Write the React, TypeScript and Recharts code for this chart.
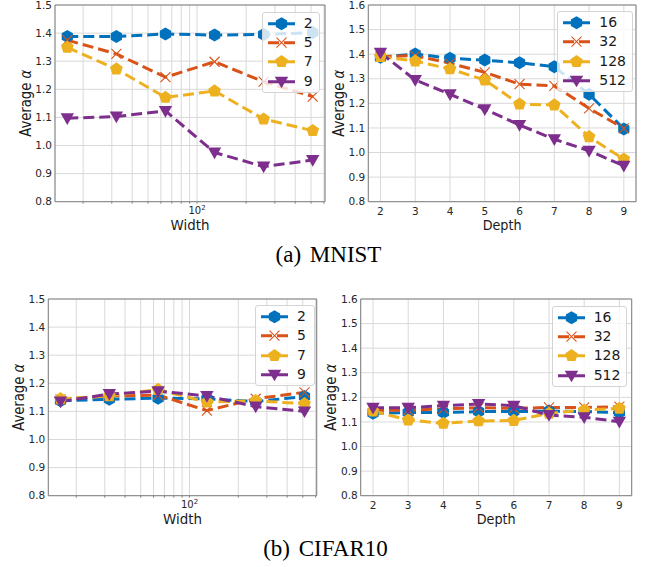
import { LineChart, Line, XAxis, YAxis, CartesianGrid, ReferenceArea } from "recharts";

// x values
const widths = [16, 32, 64, 128, 256, 512];
const depths = [2, 3, 4, 5, 6, 7, 8, 9];
const logTicks = [20, 30, 40, 50, 60, 70, 80, 90, 100, 200, 300, 400, 500, 600];
const yTicks15 = [0.8, 0.9, 1.0, 1.1, 1.2, 1.3, 1.4, 1.5];
const yTicks16 = [0.8, 0.9, 1.0, 1.1, 1.2, 1.3, 1.4, 1.5, 1.6];

// legend labels
const depthNames = ["2", "5", "7", "9"];
const widthNames = ["16", "32", "128", "512"];

// MNIST: average alpha vs width, one list per depth
const mnistWidthD2 = [1.388, 1.388, 1.397, 1.393, 1.395, 1.402];
const mnistWidthD5 = [1.375, 1.326, 1.243, 1.298, 1.227, 1.174];
const mnistWidthD7 = [1.349, 1.272, 1.171, 1.194, 1.094, 1.053];
const mnistWidthD9 = [1.097, 1.103, 1.123, 0.975, 0.925, 0.948];

// MNIST: average alpha vs depth, one list per width
const mnistDepthW16 = [1.387, 1.401, 1.383, 1.376, 1.365, 1.349, 1.237, 1.096];
const mnistDepthW32 = [1.39, 1.394, 1.363, 1.326, 1.278, 1.271, 1.18, 1.098];
const mnistDepthW128 = [1.39, 1.372, 1.34, 1.295, 1.197, 1.193, 1.064, 0.973];
const mnistDepthW512 = [1.406, 1.295, 1.237, 1.176, 1.112, 1.054, 1.007, 0.946];

// CIFAR10
const cifarWidthD2 = [1.138, 1.143, 1.147, 1.145, 1.135, 1.153];
const cifarWidthD5 = [1.143, 1.155, 1.158, 1.103, 1.145, 1.168];
const cifarWidthD7 = [1.145, 1.155, 1.178, 1.133, 1.138, 1.127];
const cifarWidthD9 = [1.135, 1.162, 1.172, 1.155, 1.117, 1.1];

const cifarDepthW16 = [1.135, 1.138, 1.138, 1.142, 1.142, 1.144, 1.142, 1.138];
const cifarDepthW32 = [1.148, 1.148, 1.153, 1.158, 1.155, 1.159, 1.159, 1.162];
const cifarDepthW128 = [1.144, 1.108, 1.094, 1.104, 1.106, 1.135, 1.148, 1.155];
const cifarDepthW512 = [1.158, 1.158, 1.166, 1.173, 1.166, 1.128, 1.119, 1.101];

const colors = ["#0072BD", "#D95319", "#EDB120", "#7E2F8E"];
const shapes = ["hex", "x", "pent", "tri"];

const FONT = "'DejaVu Sans', sans-serif";
const GRID = "#d9d9d9";
const FRAME = "#808080";
const DASH = "11 5";

function polyPts(cx: number, cy: number, r: number, n: number, rot: number) {
  const pts: string[] = [];
  for (let i = 0; i < n; i++) {
    const a = rot + (i * 2 * Math.PI) / n;
    pts.push(`${cx + r * Math.cos(a)},${cy + r * Math.sin(a)}`);
  }
  return pts.join(" ");
}

function Marker({ cx, cy, shape, color }: any) {
  if (cx == null || cy == null) return null;
  if (shape === "hex")
    return <polygon points={polyPts(cx, cy, 6.5, 6, -Math.PI / 2)} fill={color} />;
  if (shape === "pent")
    return <polygon points={polyPts(cx, cy, 6.7, 5, -Math.PI / 2)} fill={color} />;
  if (shape === "tri")
    return <polygon points={`${cx - 6.7},${cy - 5} ${cx + 6.7},${cy - 5} ${cx},${cy + 6.7}`} fill={color} />;
  const r = 5;
  return (
    <g stroke={color} strokeWidth={1.1}>
      <line x1={cx - r} y1={cy - r} x2={cx + r} y2={cy + r} />
      <line x1={cx - r} y1={cy + r} x2={cx + r} y2={cy - r} />
    </g>
  );
}

function LogTick({ x, y, payload }: any) {
  if (payload.value !== 100) return <g />;
  return (
    <text x={x} y={y} dy="0.71em" textAnchor="middle" fontSize={10} fontFamily={FONT} fill="#262626">
      10<tspan dy={-4} fontSize={7}>2</tspan>
    </text>
  );
}

type PanelProps = {
  left: number; top: number; width: number; height: number;
  mTop: number; mRight: number; yW: number; xH: number;
  xs: number[]; series: number[][]; names: string[];
  log?: boolean; yTicks: number[]; xLabel: string;
  leg: { left: number; top: number; width: number };
};

function Panel(p: PanelProps) {
  const rows = p.xs.map((x, i) => {
    const r: any = { x };
    p.series.forEach((s, k) => (r["s" + k] = s[i]));
    return r;
  });
  const xDom: [number, number] = p.log ? [13.45, 609] : [1.65, 9.35];
  const yMax = p.yTicks[p.yTicks.length - 1];
  const plotL = p.yW;
  const plotR = p.width - p.mRight;
  const plotT = p.mTop;
  const plotB = p.height - p.xH;
  return (
    <div style={{ position: "absolute", left: p.left, top: p.top, width: p.width, height: p.height }}>
      <LineChart
        width={p.width}
        height={p.height}
        data={rows}
        margin={{ top: p.mTop, right: p.mRight, left: 0, bottom: 0 }}
      >
        <CartesianGrid stroke={GRID} strokeWidth={1} />
        <XAxis
          dataKey="x"
          type="number"
          scale={p.log ? "log" : "auto"}
          domain={xDom}
          allowDataOverflow
          ticks={p.log ? logTicks : p.xs}
          height={p.xH}
          axisLine={false}
          tickLine={p.log ? { stroke: FRAME } : false}
          tickSize={p.log ? 2 : 0}
          tickMargin={p.log ? 3.5 : 5.5}
          interval={0}
          tick={p.log ? <LogTick /> : { fontSize: 10.5, fontFamily: FONT, fill: "#262626" }}
        />
        <YAxis
          type="number"
          domain={[0.8, yMax]}
          ticks={p.yTicks}
          allowDataOverflow
          width={p.yW}
          axisLine={false}
          tickLine={false}
          tickSize={0}
          tickMargin={3}
          interval={0}
          tickFormatter={(v: number) => v.toFixed(1)}
          tick={{ fontSize: 10.5, fontFamily: FONT, fill: "#262626" }}
        />
        <ReferenceArea x1={xDom[0]} x2={xDom[1]} y1={0.8} y2={yMax} fill="none" stroke={FRAME} strokeWidth={1} ifOverflow="visible" />
        {p.series.map((_, k) => (
          <Line
            key={k}
            dataKey={"s" + k}
            stroke={colors[k]}
            strokeWidth={3}
            strokeDasharray={DASH}
            isAnimationActive={false}
            dot={(d: any) => <Marker key={`m${k}-${d.index}`} cx={d.cx} cy={d.cy} shape={shapes[k]} color={colors[k]} />}
            activeDot={false}
          />
        ))}
      </LineChart>
      <svg width={p.width} height={p.height} style={{ position: "absolute", left: 0, top: 0, pointerEvents: "none" }}>
        <text
          x={(plotL + plotR) / 2}
          y={plotB + 28.7}
          textAnchor="middle"
          fontSize={14}
          textLength={39}
          lengthAdjust="spacingAndGlyphs"
          fontFamily={FONT}
          fill="#1a1a1a"
        >
          {p.xLabel}
        </text>
        <text
          transform={`translate(${plotL - 24.5},${(plotT + plotB) / 2}) rotate(-90)`}
          textAnchor="middle"
          fontSize={15}
          textLength={67}
          lengthAdjust="spacingAndGlyphs"
          fontFamily={FONT}
          fill="#1a1a1a"
        >
          Average <tspan fontStyle="italic">α</tspan>
        </text>
      </svg>
      <div
        style={{
          position: "absolute",
          left: p.leg.left,
          top: p.leg.top,
          width: p.leg.width,
          padding: "1px 0",
          background: "rgba(255,255,255,0.8)",
          border: "1px solid #d4d4d4",
          borderRadius: 3,
          fontFamily: FONT,
          fontSize: 14,
          color: "#1a1a1a",
        }}
      >
        {p.names.map((n, k) => (
          <div key={n} style={{ height: 19.3, display: "flex", alignItems: "center" }}>
            <svg width={41} height={19.3} style={{ flex: "none" }}>
              <line x1={5} x2={32} y1={9.65} y2={9.65} stroke={colors[k]} strokeWidth={3} strokeDasharray={DASH} />
              <Marker cx={18.5} cy={9.65} shape={shapes[k]} color={colors[k]} />
            </svg>
            <span style={{ lineHeight: "19.3px" }}>{n}</span>
          </div>
        ))}
      </div>
    </div>
  );
}

const capStyle: any = {
  position: "absolute",
  transform: "translateX(-50%)",
  fontFamily: "'Liberation Serif', 'Times New Roman', serif",
  fontSize: 23,
  lineHeight: "23px",
  wordSpacing: 3,
  whiteSpace: "nowrap",
  color: "#000",
};

export default function App() {
  return (
    <div style={{ position: "absolute", left: 0, top: 0, width: 645, height: 567, background: "#fff", overflow: "hidden" }}>
      <Panel
        left={0} top={0} width={330} height={240}
        mTop={5} mRight={5} yW={55} xH={38.3}
        xs={widths} series={[mnistWidthD2, mnistWidthD5, mnistWidthD7, mnistWidthD9]} names={depthNames}
        log yTicks={yTicks15} xLabel="Width"
        leg={{ left: 261.7, top: 11.7, width: 56.6 }}
      />
      <Panel
        left={320} top={0} width={325} height={240}
        mTop={5} mRight={9} yW={48.3} xH={38.3}
        xs={depths} series={[mnistDepthW16, mnistDepthW32, mnistDepthW128, mnistDepthW512]} names={widthNames}
        yTicks={yTicks16} xLabel="Depth"
        leg={{ left: 237.3, top: 11, width: 73.4 }}
      />
      <Panel
        left={0} top={290} width={330} height={240}
        mTop={9} mRight={13.3} yW={48.3} xH={34.3}
        xs={widths} series={[cifarWidthD2, cifarWidthD5, cifarWidthD7, cifarWidthD9]} names={depthNames}
        log yTicks={yTicks15} xLabel="Width"
        leg={{ left: 255, top: 15, width: 58.3 }}
      />
      <Panel
        left={320} top={290} width={325} height={240}
        mTop={9} mRight={13.3} yW={40.7} xH={34.3}
        xs={depths} series={[cifarDepthW16, cifarDepthW32, cifarDepthW128, cifarDepthW512]} names={widthNames}
        yTicks={yTicks16} xLabel="Depth"
        leg={{ left: 231.7, top: 15.7, width: 73.3 }}
      />
      <div style={{ ...capStyle, left: 328.5, top: 243 }}>(a) MNIST</div>
      <div style={{ ...capStyle, left: 325.5, top: 537.4 }}>(b) CIFAR10</div>
    </div>
  );
}
